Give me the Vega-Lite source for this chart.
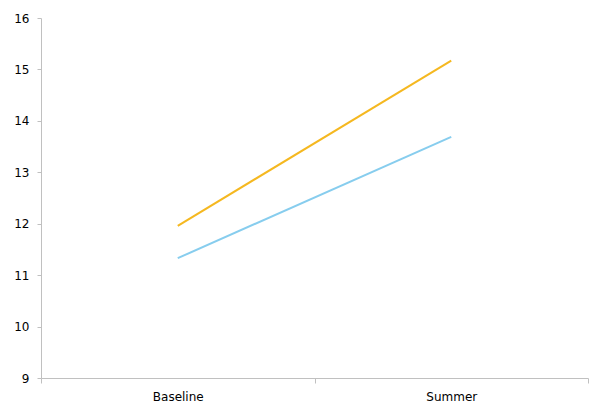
{
  "$schema": "https://vega.github.io/schema/vega-lite/v6.json",
  "width": 547,
  "height": 360,
  "autosize": {"type": "none"},
  "padding": {"left": 41, "top": 18, "right": 4, "bottom": 33},
  "background": "white",
  "config": {"view": {"stroke": null}},
  "data": {"values": [
    {"period": "Baseline", "series": "A", "value": 11.96},
    {"period": "Summer", "series": "A", "value": 15.17},
    {"period": "Baseline", "series": "B", "value": 11.33},
    {"period": "Summer", "series": "B", "value": 13.69}
  ]},
  "mark": {"type": "line", "strokeWidth": 2},
  "encoding": {
    "x": {
      "field": "period", "type": "nominal",
      "scale": {"type": "band", "paddingInner": 0, "paddingOuter": 0},
      "axis": {"title": null, "labelAngle": 0, "tickBand": "extent", "domainColor": "#c0c0c0", "tickColor": "#c0c0c0", "tickSize": 5, "labelPadding": 8, "labelFont": "DejaVu Sans", "labelFontSize": 12, "labelColor": "#000000", "grid": false}
    },
    "y": {
      "field": "value", "type": "quantitative",
      "scale": {"domain": [9, 16], "nice": false, "zero": false},
      "axis": {"title": null, "values": [9, 10, 11, 12, 13, 14, 15, 16], "grid": false, "domainColor": "#c0c0c0", "tickColor": "#c0c0c0", "tickSize": 4, "labelPadding": 8, "labelFont": "DejaVu Sans", "labelFontSize": 12, "labelColor": "#000000"}
    },
    "color": {
      "field": "series", "type": "nominal",
      "scale": {"domain": ["A", "B"], "range": ["#f5b820", "#87cdee"]},
      "legend": null
    }
  }
}
